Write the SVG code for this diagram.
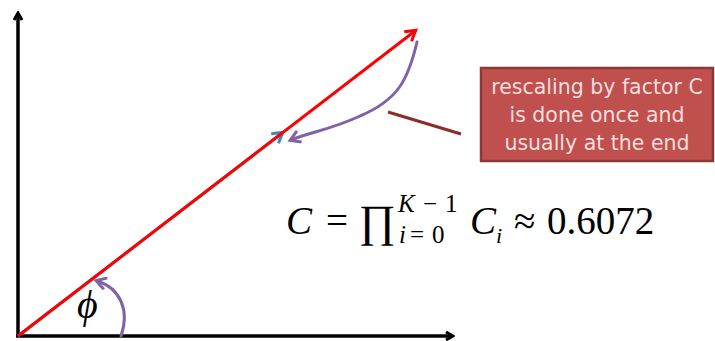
<svg xmlns="http://www.w3.org/2000/svg" width="715" height="341" viewBox="0 0 715 341">
<style>
.ax{stroke:#000;stroke-width:3.5;fill:none}
.pu{stroke:#7f63a8;stroke-width:3;fill:none;stroke-linecap:round}
.m{font-family:"Liberation Serif","DejaVu Serif",serif;fill:#000}
.bt{font-family:"DejaVu Sans","Liberation Sans",sans-serif;font-size:20.5px;fill:#f4dede;text-anchor:middle}
</style>
<defs>
<marker id="ab" markerWidth="10" markerHeight="10" refX="7" refY="5" orient="auto" markerUnits="userSpaceOnUse">
<path d="M1,1 L8,5 L1,9" fill="none" stroke="#000" stroke-width="3"/>
</marker>
<marker id="ar" markerWidth="14" markerHeight="14" refX="10" refY="7" orient="auto" markerUnits="userSpaceOnUse">
<path d="M1,1 L11,7 L1,13" fill="none" stroke="#f00" stroke-width="3"/>
</marker>
<marker id="abl" markerWidth="14" markerHeight="14" refX="10" refY="7" orient="auto" markerUnits="userSpaceOnUse">
<path d="M1,1 L11,7 L1,13" fill="none" stroke="#4f81bd" stroke-width="3"/>
</marker>
<marker id="ap" markerWidth="14" markerHeight="14" refX="10" refY="7" orient="auto" markerUnits="userSpaceOnUse">
<path d="M1,1 L11,7 L1,13" fill="none" stroke="#7f63a8" stroke-width="3"/>
</marker>
</defs>
<g id="connectors">
<line class="ax" x1="18" y1="337" x2="18" y2="14" marker-end="url(#ab)"/>
<line class="ax" x1="16" y1="336" x2="452" y2="336" marker-end="url(#ab)"/>
<line x1="18" y1="336" x2="282" y2="133" stroke="#4f81bd" stroke-width="3" marker-end="url(#abl)"/>
<line x1="18" y1="336" x2="415" y2="31" stroke="#f00" stroke-width="3" marker-end="url(#ar)"/>
<path class="pu" d="M417,42 C408,80 398,100 360,116 C330,130 310,132 291,140" marker-end="url(#ap)"/>
<path class="pu" d="M121,336 C130,310 120,288 97,281" marker-end="url(#ap)"/>
<line x1="388" y1="112" x2="461" y2="134" stroke="#8b2e2a" stroke-width="3"/>
</g>
<g id="phi"><text class="m" x="77" y="318" font-size="40" font-style="italic">ϕ</text></g>
<g id="note">
<rect x="481" y="68" width="232" height="93" fill="#c0504d" stroke="#8c3836" stroke-width="2.5"/>
<text class="bt" x="597" y="94">rescaling by factor C</text>
<text class="bt" x="597" y="122">is done once and</text>
<text class="bt" x="597" y="150">usually at the end</text>
</g>
<g id="formula">
<text class="m" x="286" y="234" font-size="39" font-style="italic">C</text>
<text class="m" x="326" y="234" font-size="39">=</text>
<text class="m" x="359" y="236" font-size="45">∏</text>
<text class="m" y="212" font-size="25"><tspan x="398" font-style="italic">K</tspan><tspan x="423">−</tspan><tspan x="445">1</tspan></text>
<text class="m" y="243" font-size="25"><tspan x="399" font-style="italic">i</tspan><tspan x="410">=</tspan><tspan x="432">0</tspan></text>
<text class="m" x="470" y="234" font-size="39" font-style="italic">C</text>
<text class="m" x="496" y="243" font-size="22" font-style="italic">i</text>
<text class="m" x="514" y="234" font-size="39">≈</text>
<text class="m" x="547" y="234" font-size="39">0.6072</text>
</g>
</svg>
